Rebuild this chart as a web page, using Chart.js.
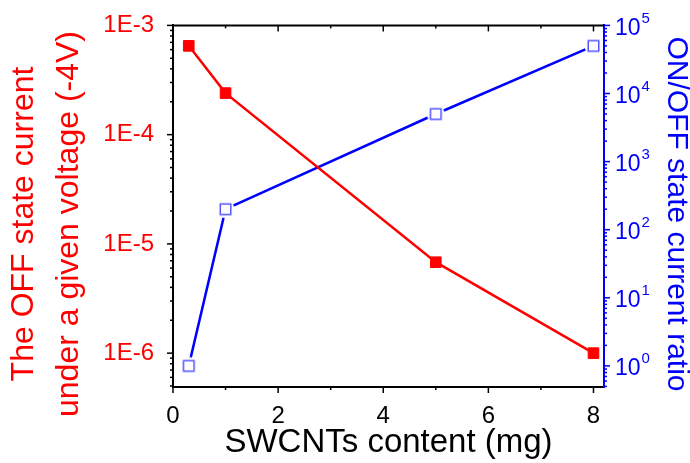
<!DOCTYPE html>
<html>
<head>
<meta charset="utf-8">
<script src="https://cdn.jsdelivr.net/npm/chart.js@4.4.1/dist/chart.umd.min.js"></script>
<style>
  html, body { margin: 0; padding: 0; background: #fff; }
  canvas { display: block; }
</style>
</head>
<body>
<canvas id="chart" width="690" height="463"></canvas>
<script>
// data
const contentMg = [0.3, 1, 5, 8];
const offCurrent = [6.5e-4, 2.4e-4, 6.8e-6, 1.0e-6];
const onOffRatio = [1.0, 200, 5000, 5e4];

// tick labels
const xTicks = [0, 2, 4, 6, 8];
const leftTicks = [1e-6, 1e-5, 1e-4, 1e-3];
const leftTickLabels = ["1E-6", "1E-5", "1E-4", "1E-3"];
const rightTicks = [1, 10, 100, 1000, 1e4, 1e5];
const rightTickExp = ["0", "1", "2", "3", "4", "5"];

const leftTitle = ["The OFF state current", "under a given voltage (-4V)"];
const rightTitle = "ON/OFF state current ratio";

const FONT = "'Liberation Sans', Arial, sans-serif";
const RED = "#ff0000";
const BLUE = "#0000ff";

// hollow square with a white halo so the line stops short of the marker
function hollowSquare() {
  const c = document.createElement("canvas");
  c.width = 19;
  c.height = 19;
  const g = c.getContext("2d");
  g.fillStyle = "#fff";
  g.beginPath();
  g.arc(9.5, 9.5, 9, 0, Math.PI * 2);
  g.fill();
  g.strokeStyle = "rgba(40,40,255,0.8)";
  g.lineWidth = 1.5;
  g.strokeRect(4.25, 4.25, 10.5, 10.5);
  return c;
}

// outward ticks with short minor ticks, the top frame line,
// right-hand power labels and the two vertical titles
const axisExtras = {
  id: "axisExtras",
  afterDraw(chart) {
    const { ctx, chartArea: a, scales } = chart;
    const line = (x1, y1, x2, y2) => {
      ctx.beginPath();
      ctx.moveTo(x1, y1);
      ctx.lineTo(x2, y2);
      ctx.stroke();
    };
    ctx.save();
    ctx.lineWidth = 2;
    ctx.strokeStyle = "#000";
    line(a.left - 1, a.top, a.right, a.top);

    ctx.lineWidth = 1.5;
    for (let v = 0; v <= scales.x.max; v += 1) {
      const px = scales.x.getPixelForValue(v);
      const len = v % 2 === 0 ? 6 : 3;
      line(px, a.bottom, px, a.bottom + len);
      line(px, a.top, px, a.top + len);
    }

    const logTicks = (scale, x, dir, color) => {
      ctx.strokeStyle = color;
      const k0 = Math.floor(Math.log10(scale.min));
      const k1 = Math.ceil(Math.log10(scale.max));
      for (let k = k0; k <= k1; k++) {
        for (let m = 1; m <= 9; m++) {
          const v = m * Math.pow(10, k);
          if (v < scale.min * 0.999 || v > scale.max * 1.001) continue;
          const py = scale.getPixelForValue(v);
          const len = m === 1 ? 6 : 3;
          line(x, py, x + dir * len, py);
        }
      }
    };
    logTicks(scales.y, a.left, -1, "#000");
    logTicks(scales.y1, a.right, 1, BLUE);

    // right tick labels as 10 with a raised exponent
    ctx.fillStyle = BLUE;
    ctx.textBaseline = "middle";
    ctx.textAlign = "left";
    rightTicks.forEach((v, i) => {
      const py = scales.y1.getPixelForValue(v);
      const x0 = a.right + 11;
      ctx.font = "23px " + FONT;
      ctx.fillText("10", x0, py + 3);
      const w = ctx.measureText("10").width;
      ctx.font = "15px " + FONT;
      ctx.fillText(rightTickExp[i], x0 + w + 1, py - 7);
    });

    // left title, two lines, reading upward
    ctx.fillStyle = RED;
    ctx.textAlign = "center";
    ctx.font = "32px " + FONT;
    ctx.save();
    ctx.translate(0, 224);
    ctx.rotate(-Math.PI / 2);
    ctx.fillText(leftTitle[0], 0, 24);
    ctx.fillText(leftTitle[1], 0, 69);
    ctx.restore();

    // right title, reading downward
    ctx.fillStyle = BLUE;
    ctx.font = "30px " + FONT;
    ctx.save();
    ctx.translate(676, 214);
    ctx.rotate(Math.PI / 2);
    ctx.fillText(rightTitle, 0, 0);
    ctx.restore();

    ctx.restore();
  },
};

new Chart(document.getElementById("chart").getContext("2d"), {
  type: "line",
  data: {
    datasets: [
      {
        label: "OFF current",
        yAxisID: "y",
        data: contentMg.map((x, i) => ({ x: x, y: offCurrent[i] })),
        borderColor: RED,
        borderWidth: 2.5,
        pointStyle: "rect",
        pointRadius: 7.5,
        pointBorderWidth: 1,
        pointBackgroundColor: RED,
        pointBorderColor: RED,
      },
      {
        label: "ON/OFF ratio",
        yAxisID: "y1",
        data: contentMg.map((x, i) => ({ x: x, y: onOffRatio[i] })),
        borderColor: BLUE,
        borderWidth: 2.5,
        pointStyle: hollowSquare(),
      },
    ],
  },
  options: {
    responsive: false,
    animation: false,
    devicePixelRatio: 1,
    layout: { padding: { top: 25, left: 0, right: 0, bottom: 0 } },
    plugins: {
      legend: { display: false },
      tooltip: { enabled: false },
    },
    scales: {
      x: {
        type: "linear",
        min: 0,
        max: 8.2,
        grid: { display: false },
        border: { display: true, color: "#000", width: 2 },
        afterBuildTicks: (s) => {
          s.ticks = xTicks.map((v) => ({ value: v }));
        },
        ticks: {
          color: "#000",
          font: { family: FONT, size: 24 },
          padding: 7,
          autoSkip: false,
          maxRotation: 0,
        },
        title: {
          display: true,
          text: "SWCNTs content (mg)",
          color: "#000",
          font: { family: FONT, size: 33 },
          padding: { top: 0, bottom: 0 },
        },
        afterFit: (s) => {
          s.height = 76;
        },
      },
      y: {
        type: "logarithmic",
        position: "left",
        min: 4.9e-7,
        max: 1e-3,
        grid: { display: false },
        border: { display: true, color: "#000", width: 2 },
        afterBuildTicks: (s) => {
          s.ticks = leftTicks.map((v) => ({ value: v, major: true }));
        },
        ticks: {
          color: RED,
          font: { family: FONT, size: 24 },
          padding: 11,
          autoSkip: false,
          callback: (v) => leftTickLabels[leftTicks.indexOf(v)],
        },
        afterFit: (s) => {
          s.width = 173;
        },
      },
      y1: {
        type: "logarithmic",
        position: "right",
        min: 0.49,
        max: 1e5,
        grid: { display: false },
        border: { display: true, color: BLUE, width: 2 },
        afterBuildTicks: (s) => {
          s.ticks = rightTicks.map((v) => ({ value: v, major: true }));
        },
        ticks: { display: false },
        afterFit: (s) => {
          s.width = 86;
        },
      },
    },
  },
  plugins: [axisExtras],
});
</script>
</body>
</html>
